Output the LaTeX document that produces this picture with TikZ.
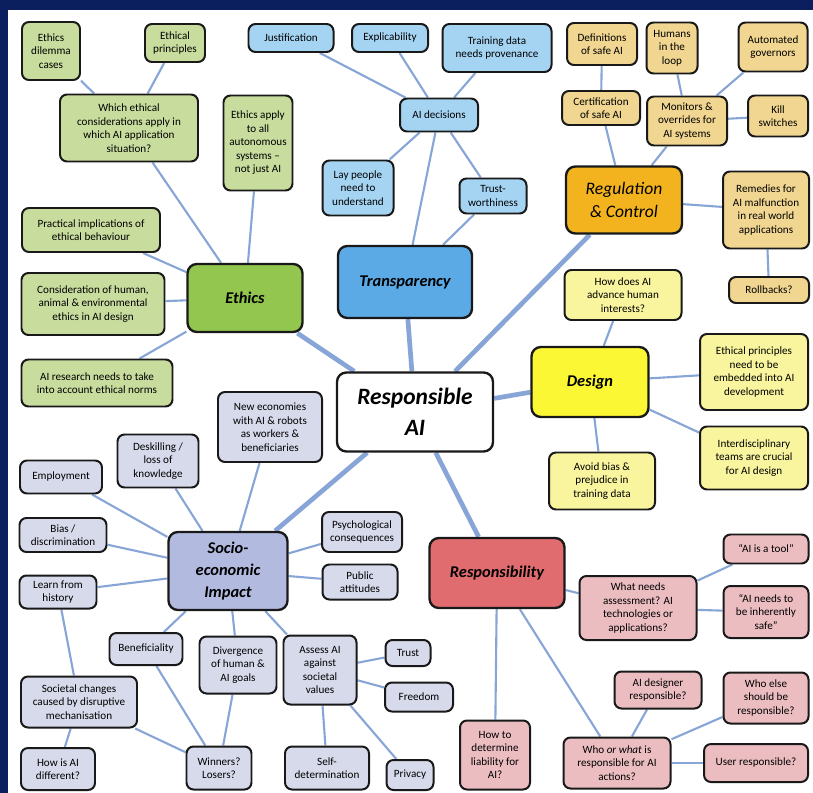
\documentclass[tikz,border=0pt]{standalone}
\usepackage{fontspec}
\setmainfont{Carlito}
\usetikzlibrary{positioning,backgrounds}
\definecolor{navy}{HTML}{0B1F5E}
\definecolor{linkblue}{HTML}{87A5D6}
\definecolor{ethleaf}{HTML}{C8DC9E}
\definecolor{ethhub}{HTML}{92C64F}
\definecolor{trleaf}{HTML}{A5D4F3}
\definecolor{trhub}{HTML}{5BAAE6}
\definecolor{regleaf}{HTML}{F0D690}
\definecolor{reghub}{HTML}{F2B31E}
\definecolor{desleaf}{HTML}{F8F59E}
\definecolor{deshub}{HTML}{FCF735}
\definecolor{socleaf}{HTML}{D7DAEB}
\definecolor{sochub}{HTML}{B2BADF}
\definecolor{respleaf}{HTML}{EBBDC1}
\definecolor{resphub}{HTML}{E06C70}
\newcommand\leaffont{\fontsize{9.5}{11.5}\selectfont}
\newcommand\hubfont{\fontsize{14}{19}\selectfont\bfseries\itshape}

\begin{document}
\begin{tikzpicture}[x=0.03cm, y=-0.03cm,
  leaf/.style={draw=black!90, line width=1.7pt, rounded corners=6pt, align=center, inner sep=1pt, font=\leaffont},
  hub/.style={leaf, line width=2pt, rounded corners=8pt, font=\hubfont},
  sz/.style 2 args={minimum width=#1*0.03cm, minimum height=#2*0.03cm},
  link/.style={draw=linkblue, line width=1.8pt},
  trunk/.style={draw=linkblue, line width=4pt}]
  \useasboundingbox (0,0) rectangle (813,793);

  \node[hub, fill=white, sz={156}{79}, font=\fontsize{20}{26}\selectfont\bfseries\itshape] (rai) at (415,412) {Responsible\\AI};

  \node[hub, fill=ethhub, sz={115}{68}] (ethics) at (245,298) {Ethics};
  \node[leaf, fill=ethleaf, sz={58}{58}] (dilemma) at (51,51) {Ethics\\dilemma\\cases};
  \node[leaf, fill=ethleaf, sz={60}{38}] (principles) at (175,43) {Ethical\\principles};
  \node[leaf, fill=ethleaf, sz={138}{67}] (which) at (129,128) {Which ethical\\considerations apply in\\which AI application\\situation?};
  \node[leaf, fill=ethleaf, sz={69}{95}] (autonomous) at (258,143) {Ethics apply\\to all\\autonomous\\systems --\\not just AI};
  \node[leaf, fill=ethleaf, sz={138}{44}] (practical) at (91,230) {Practical implications of\\ethical behaviour};
  \node[leaf, fill=ethleaf, sz={143}{62}] (consider) at (93,304) {Consideration of human,\\animal \& environmental\\ethics in AI design};
  \node[leaf, fill=ethleaf, sz={151}{47}] (research) at (97,383) {AI research needs to take\\into account ethical norms};

  \node[hub, fill=trhub, sz={134}{72}] (transp) at (405,282) {Transparency};
  \node[leaf, fill=trleaf, sz={85}{28}] (justif) at (291,38) {Justification};
  \node[leaf, fill=trleaf, sz={76}{28}] (explic) at (390,38) {Explicability};
  \node[leaf, fill=trleaf, sz={109}{48}] (provenance) at (497,48) {Training data\\needs provenance};
  \node[leaf, fill=trleaf, sz={78}{33}] (decisions) at (439,115) {AI decisions};
  \node[leaf, fill=trleaf, sz={71}{55}] (laypeople) at (358,188) {Lay people\\need to\\understand};
  \node[leaf, fill=trleaf, sz={67}{35}] (trustw) at (493,196) {Trust-\\worthiness};

  \node[hub, fill=reghub, sz={116}{67}, font=\fontsize{15}{20}\selectfont\itshape] (regul) at (624,200) {Regulation\\\& Control};
  \node[leaf, fill=regleaf, sz={70}{42}] (definitions) at (602,44) {Definitions\\of safe AI};
  \node[leaf, fill=regleaf, sz={51}{51}] (loop) at (672,48) {Humans\\in the\\loop};
  \node[leaf, fill=regleaf, sz={69}{49}] (governors) at (773,47) {Automated\\governors};
  \node[leaf, fill=regleaf, sz={78}{34}] (certif) at (601,108) {Certification\\of safe AI};
  \node[leaf, fill=regleaf, sz={80}{49}] (monitors) at (687,121) {Monitors \&\\overrides for\\AI systems};
  \node[leaf, fill=regleaf, sz={60}{41}] (kill) at (778,116) {Kill\\switches};
  \node[leaf, fill=regleaf, sz={86}{77}] (remedies) at (766,210) {Remedies for\\AI malfunction\\in real world\\applications};
  \node[leaf, fill=regleaf, sz={80}{26}] (rollbacks) at (769,290) {Rollbacks?};

  \node[hub, fill=deshub, sz={117}{70}] (design) at (590,382) {Design};
  \node[leaf, fill=desleaf, sz={117}{50}] (advance) at (623,295) {How does AI\\advance human\\interests?};
  \node[leaf, fill=desleaf, sz={108}{76}] (embedded) at (754,372) {Ethical principles\\need to be\\embedded into AI\\development};
  \node[leaf, fill=desleaf, sz={108}{63}] (interdisc) at (754,458) {Interdisciplinary\\teams are crucial\\for AI design};
  \node[leaf, fill=desleaf, sz={106}{57}] (bias) at (602,481) {Avoid bias \&\\prejudice in\\training data};

  \node[hub, fill=sochub, sz={119}{78}] (socio) at (228,571) {Socio-\\economic\\Impact};
  \node[leaf, fill=socleaf, sz={104}{70}] (economies) at (270,427) {New economies\\with AI \& robots\\as workers \&\\beneficiaries};
  \node[leaf, fill=socleaf, sz={81}{53}] (deskill) at (158,461) {Deskilling /\\loss of\\knowledge};
  \node[leaf, fill=socleaf, sz={82}{33}] (employ) at (61,477) {Employment};
  \node[leaf, fill=socleaf, sz={87}{34}] (discrim) at (63,535) {Bias /\\discrimination};
  \node[leaf, fill=socleaf, sz={77}{33}] (history) at (58,592) {Learn from\\history};
  \node[leaf, fill=socleaf, sz={80}{40}] (psych) at (362,532) {Psychological\\consequences};
  \node[leaf, fill=socleaf, sz={75}{35}] (attitudes) at (360,582) {Public\\attitudes};
  \node[leaf, fill=socleaf, sz={73}{32}] (benef) at (146,649) {Beneficiality};
  \node[leaf, fill=socleaf, sz={77}{57}] (diverg) at (238,665) {Divergence\\of human \&\\AI goals};
  \node[leaf, fill=socleaf, sz={73}{69}] (assess) at (320,670) {Assess AI\\against\\societal\\values};
  \node[leaf, fill=socleaf, sz={45}{26}] (trust) at (408,653) {Trust};
  \node[leaf, fill=socleaf, sz={68}{29}] (freedom) at (419,697) {Freedom};
  \node[leaf, fill=socleaf, sz={116}{51}] (societal) at (79,702) {Societal changes\\caused by disruptive\\mechanisation};
  \node[leaf, fill=socleaf, sz={74}{42}] (howdiff) at (58,769) {How is AI\\different?};
  \node[leaf, fill=socleaf, sz={65}{43}] (winners) at (219,768) {Winners?\\Losers?};
  \node[leaf, fill=socleaf, sz={84}{43}] (selfdet) at (327,768) {Self-\\determination};
  \node[leaf, fill=socleaf, sz={47}{30}] (privacy) at (410,775) {Privacy};

  \node[hub, fill=resphub, sz={135}{70}] (resp) at (497,573) {Responsibility};
  \node[leaf, fill=respleaf, sz={117}{64}] (needs) at (638,608) {What needs\\assessment? AI\\technologies or\\applications?};
  \node[leaf, fill=respleaf, sz={85}{29}] (tool) at (766,549) {``AI is a tool''};
  \node[leaf, fill=respleaf, sz={85}{52}] (inherent) at (766,612) {``AI needs to\\be inherently\\safe''};
  \node[leaf, fill=respleaf, sz={87}{37}] (designer) at (658,690) {AI designer\\responsible?};
  \node[leaf, fill=respleaf, sz={85}{51}] (whoelse) at (766,698) {Who else\\should be\\responsible?};
  \node[leaf, fill=respleaf, sz={70}{69}] (liability) at (495,755) {How to\\determine\\liability for\\AI?};
  \node[leaf, fill=respleaf, sz={107}{51}] (whowhat) at (617,763) {Who \textit{or what} is\\responsible for AI\\actions?};
  \node[leaf, fill=respleaf, sz={104}{38}] (user) at (756,763) {User responsible?};

  \begin{pgfonlayer}{background}
    \fill[navy] (0,0) rectangle (813,793);
    \fill[white] (8,10) rectangle (813,793);
    \foreach \hub in {ethics,transp,regul,design,socio,resp}
      \draw[trunk] (rai) -- (\hub);
    \foreach \a/\b in {dilemma/which, principles/which, which/ethics, autonomous/ethics,
        practical/ethics, consider/ethics, research/ethics,
        justif/decisions, explic/decisions, provenance/decisions, decisions/laypeople,
        decisions/trustw, decisions/transp, trustw/transp,
        definitions/certif, certif/regul, loop/monitors, governors/monitors, kill/monitors,
        monitors/regul, remedies/regul, remedies/rollbacks,
        advance/design, embedded/design, interdisc/design, bias/design,
        economies/socio, deskill/socio, employ/socio, discrim/socio, history/socio,
        psych/socio, attitudes/socio, benef/socio, diverg/socio, assess/socio,
        history/societal, societal/howdiff, societal/winners, benef/winners, diverg/winners,
        assess/trust, assess/freedom, assess/selfdet, assess/privacy,
        resp/needs, needs/tool, needs/inherent, resp/liability, resp/whowhat,
        whowhat/designer, whowhat/whoelse, whowhat/user}
      \draw[link] (\a) -- (\b);
  \end{pgfonlayer}
\end{tikzpicture}
\end{document}
